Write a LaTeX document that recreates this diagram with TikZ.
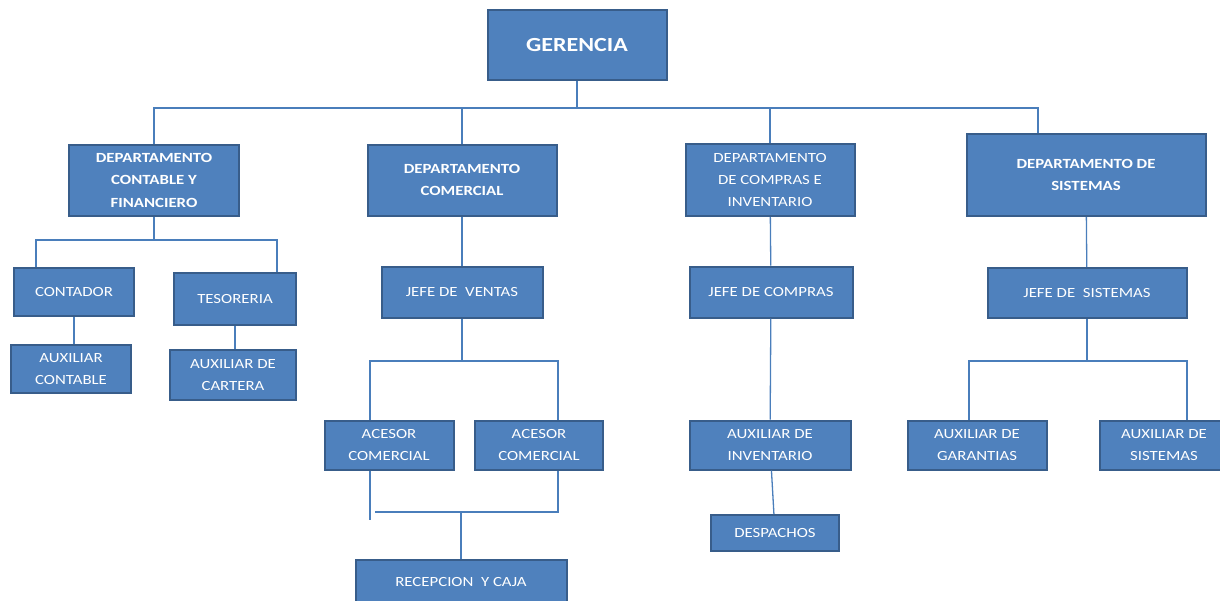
\documentclass[tikz,border=0pt]{standalone}
\usepackage{fontspec}
\usepackage{xcolor}
\usepackage{tikz}
\usetikzlibrary{shapes,arrows}
\usetikzlibrary{positioning}
\newfontfamily\boxfont{Carlito}[FakeStretch=1.2]
\definecolor{boxfill}{HTML}{4F81BD}
\definecolor{boxline}{HTML}{385D8A}
\definecolor{linkblue}{HTML}{4A7EBB}
\tikzstyle{block} = [rectangle, draw=boxline, line width=2pt, fill=boxfill,
    text=white, align=center, inner sep=2pt,
    font={\boxfont\fontsize{14}{22}\selectfont}]
\tikzstyle{dept} = [block, font={\boxfont\bfseries\fontsize{14}{22.5}\selectfont}]
\tikzstyle{head} = [block, font={\boxfont\bfseries\fontsize{20}{24}\selectfont}]
\tikzstyle{edge} = [draw, linkblue, line width=1.3pt]

\begin{document}
\begin{tikzpicture}[x=1pt, y=-1pt]
  \useasboundingbox (0,0) rectangle (1220,600);
  % Place nodes
  \node [head, minimum width=179pt, minimum height=70pt] (gerencia) at (577,45) {GERENCIA};
  \node [dept, minimum width=170pt, minimum height=71pt] (contable) at (154,180) {DEPARTAMENTO\\CONTABLE Y\\FINANCIERO};
  \node [dept, minimum width=189pt, minimum height=71pt] (comercial) at (462,180) {DEPARTAMENTO\\COMERCIAL};
  \node [block, minimum width=169pt, minimum height=72pt] (compras) at (770,180) {DEPARTAMENTO\\DE COMPRAS E\\INVENTARIO};
  \node [dept, minimum width=239pt, minimum height=82pt] (sistemas) at (1086,175) {DEPARTAMENTO DE\\SISTEMAS};

  \node [block, minimum width=120pt, minimum height=48pt] (contador) at (74,292) {CONTADOR};
  \node [block, minimum width=122pt, minimum height=52pt] (tesoreria) at (235,299) {TESORERIA};
  \node [block, minimum width=120pt, minimum height=48pt] (auxcontable) at (71,369) {AUXILIAR\\CONTABLE};
  \node [block, minimum width=126pt, minimum height=50pt] (auxcartera) at (233,375) {AUXILIAR DE\\CARTERA};

  \node [block, minimum width=161pt, minimum height=51pt] (ventas) at (462,292) {JEFE DE \ VENTAS};
  \node [block, minimum width=129pt, minimum height=49pt] (acesorA) at (389,445) {ACESOR\\COMERCIAL};
  \node [block, minimum width=128pt, minimum height=49pt] (acesorB) at (539,445) {ACESOR\\COMERCIAL};
  \node [block, minimum width=211pt, minimum height=44pt] (recepcion) at (461,582) {RECEPCION \ Y CAJA};

  \node [block, minimum width=163pt, minimum height=51pt] (jefecompras) at (771,292) {JEFE DE COMPRAS};
  \node [block, minimum width=161pt, minimum height=49pt] (auxinventario) at (770,445) {AUXILIAR DE\\INVENTARIO};
  \node [block, minimum width=128pt, minimum height=36pt] (despachos) at (775,533) {DESPACHOS};

  \node [block, minimum width=199pt, minimum height=50pt] (jefesistemas) at (1087,293) {JEFE DE \ SISTEMAS};
  \node [block, minimum width=139pt, minimum height=49pt] (garantias) at (977,445) {AUXILIAR DE\\GARANTIAS};
  \node [block, minimum width=128pt, minimum height=49pt] (auxsistemas) at (1164,445) {AUXILIAR DE\\SISTEMAS};

  % Bus lines
  \coordinate (bus0) at (0,108);
  \coordinate (bus1) at (0,240);
  \coordinate (bus2) at (0,361);
  \coordinate (bus3) at (0,512);
  \coordinate (sisdrop) at ([xshift=-48pt]sistemas.north);
  \coordinate (contdrop) at ([xshift=-38pt]contador.north);
  \coordinate (tesodrop) at ([xshift=42pt]tesoreria.north);
  \coordinate (acAdrop) at ([xshift=-19pt]acesorA.north);
  \coordinate (acBdrop) at ([xshift=19pt]acesorB.north);
  \coordinate (bus3start) at (375,512);
  \coordinate (garadrop) at ([xshift=-8pt]garantias.north);
  \coordinate (auxsisdrop) at ([xshift=23pt]auxsistemas.north);

  % Draw edges
  \path [edge] (contable.north) |- (sisdrop |- bus0) -- (sisdrop);
  \path [edge] (gerencia) -- (gerencia |- bus0);
  \path [edge] (comercial) -- (comercial |- bus0);
  \path [edge] (compras) -- (compras |- bus0);

  \path [edge] (contdrop) |- (tesodrop |- bus1) -- (tesodrop);
  \path [edge] (contable) -- (contable |- bus1);
  \path [edge] (contador.south) -- (contador.south |- auxcontable.north);
  \path [edge] (tesoreria.south) -- (tesoreria.south |- auxcartera.north);

  \path [edge] (comercial) -- (ventas);
  \path [edge] (acAdrop) |- (acBdrop |- bus2) -- (acBdrop);
  \path [edge] (ventas) -- (ventas |- bus2);
  \path [edge] ([xshift=-19pt]acesorA.south) -- ++(0,49);
  \path [edge] (bus3start) -| ([xshift=19pt]acesorB.south);
  \path [edge] (recepcion) -- (recepcion |- bus3);

  \path [edge] (compras) -- (jefecompras);
  \path [edge] (jefecompras) -- (auxinventario);
  \path [edge] (auxinventario) -- (despachos);

  \path [edge] (sistemas) -- (jefesistemas);
  \path [edge] (garadrop) |- (auxsisdrop |- bus2) -- (auxsisdrop);
  \path [edge] (jefesistemas) -- (jefesistemas |- bus2);
\end{tikzpicture}
\end{document}
